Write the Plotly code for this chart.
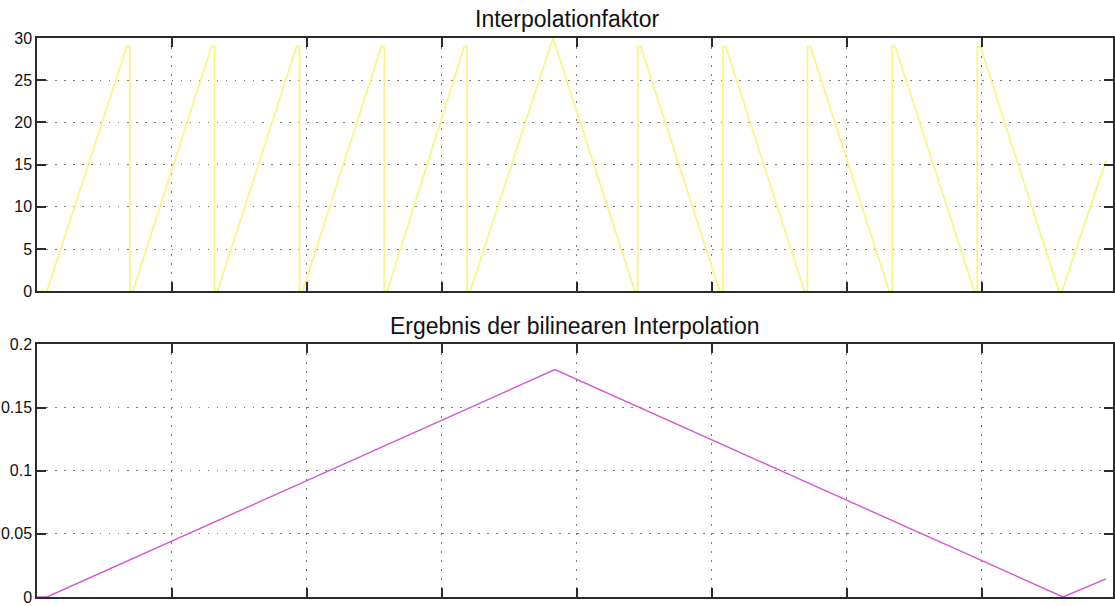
import plotly.graph_objects as go

# ---- data ----
x_faktor = [0, 3.7, 33.3, 34.4, 34.4, 35.5, 64.7, 65.8, 65.8, 66.9, 96.2, 97.3, 97.3, 98.4,
            127.6, 128.7, 128.7, 129.8, 158.3, 159.4, 159.4, 160.5, 191.2,
            221.5, 222.6, 222.6, 223.7, 253.0, 254.1, 254.1, 255.2, 284.4, 285.5, 285.5, 286.6,
            315.8, 316.9, 316.9, 318.0, 347.3, 348.4, 348.4, 349.5, 378.7, 379.8, 396.1]
y_faktor = [0, 0, 29, 29, 0, 0, 29, 29, 0, 0, 29, 29, 0, 0,
            29, 29, 0, 0, 29, 29, 0, 0, 30,
            0, 0, 29, 29, 0, 0, 29, 29, 0, 0, 29, 29,
            0, 0, 29, 29, 0, 0, 29, 29, 0, 0, 15.5]

x_ergebnis = [0, 3.7, 191.9, 380.2, 396.1]
y_ergebnis = [0, 0, 0.180, 0, 0.0144]

x_ticks = [0, 50, 100, 150, 200, 250, 300, 350, 400]
y1_ticks = [0, 5, 10, 15, 20, 25, 30]
y2_ticks = [0, 0.05, 0.1, 0.15, 0.2]
y2_labels = ["0", "0.05", "0.1", "0.15", "0.2"]

title_top = "Interpolationfaktor"
title_bottom = "Ergebnis der bilinearen Interpolation"

FONT = "Liberation Sans, Arial, Helvetica, sans-serif"
AXIS_COL = "#2b2b2b"
GRID_COL = "#7a7a7a"

fig = go.Figure()
fig.add_trace(go.Scatter(x=x_faktor, y=y_faktor, mode="lines",
                         line=dict(color="#f6f68a", width=1.8),
                         xaxis="x", yaxis="y", showlegend=False, hoverinfo="skip"))
fig.add_trace(go.Scatter(x=x_ergebnis, y=y_ergebnis, mode="lines",
                         line=dict(color="#d456d4", width=1.4),
                         xaxis="x2", yaxis="y2", showlegend=False, hoverinfo="skip"))

common_x = dict(range=[0, 398.7], tickvals=x_ticks, showticklabels=False,
                ticks="inside", ticklen=9, tickwidth=1.5, tickcolor=AXIS_COL,
                showline=True, linecolor=AXIS_COL, linewidth=1.5, mirror="ticks",
                showgrid=True, gridcolor=GRID_COL, gridwidth=1.3, griddash="1.5px,7.5px",
                zeroline=False)
common_y = dict(ticks="inside", ticklen=9, tickwidth=1.5, tickcolor=AXIS_COL,
                showline=True, linecolor=AXIS_COL, linewidth=1.5, mirror="ticks",
                showgrid=True, gridcolor=GRID_COL, gridwidth=1.3, griddash="1.5px,7.5px",
                zeroline=False, tickfont=dict(family=FONT, size=16, color="#111"))

fig.update_layout(
    width=1115, height=606,
    margin=dict(l=37, r=0, t=38, b=6),
    paper_bgcolor="white", plot_bgcolor="white",
    xaxis=dict(domain=[0, 1], anchor="y", **common_x),
    yaxis=dict(domain=[0.547, 1], anchor="x", range=[0, 30], tickvals=y1_ticks, **common_y),
    xaxis2=dict(domain=[0, 1], anchor="y2", **common_x),
    yaxis2=dict(domain=[0, 0.452], anchor="x2", range=[0, 0.2], tickvals=y2_ticks,
                ticktext=y2_labels, **common_y),
    annotations=[
        dict(text=title_top, xref="paper", yref="paper", x=0.4924, y=1.0071,
             xanchor="center", yanchor="bottom", showarrow=False,
             font=dict(family=FONT, size=23, color="#111")),
        dict(text=title_bottom, xref="paper", yref="paper", x=0.5, y=0.4573,
             xanchor="center", yanchor="bottom", showarrow=False,
             font=dict(family=FONT, size=23, color="#111")),
    ],
)

fig.write_html("out.html")
